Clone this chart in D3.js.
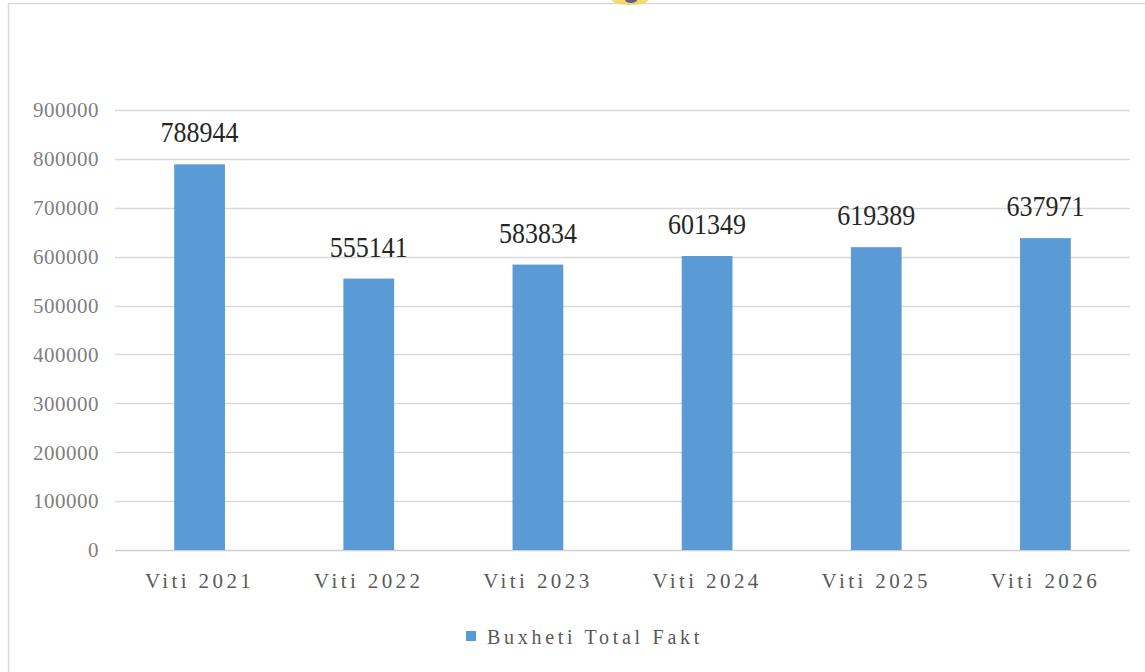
<!DOCTYPE html>
<html>
<head>
<meta charset="utf-8">
<script src="https://cdn.jsdelivr.net/npm/d3@7"></script>
<style>
  html, body { margin: 0; padding: 0; background: #fff; }
  svg { display: block; }
</style>
</head>
<body>
<svg id="chart" width="1145" height="672"></svg>
<script>
const categories = ["Viti 2021", "Viti 2022", "Viti 2023", "Viti 2024", "Viti 2025", "Viti 2026"];
const values = [788944, 555141, 583834, 601349, 619389, 637971];
const yTicks = [0, 100000, 200000, 300000, 400000, 500000, 600000, 700000, 800000, 900000];
const seriesName = "Buxheti Total Fakt";

const svg = d3.select("#chart");
const W = 1145, H = 672;
const plot = { left: 115, right: 1130, top: 110, bottom: 550 };

// frame
svg.append("line").attr("x1", 8.5).attr("x2", 8.5).attr("y1", 3).attr("y2", H)
  .attr("stroke", "#d9d9d9").attr("stroke-width", 1.5);
svg.append("line").attr("x1", 8).attr("x2", W).attr("y1", 3.5).attr("y2", 3.5)
  .attr("stroke", "#d9d9d9").attr("stroke-width", 1.5);

// small logo fragment at top
svg.append("ellipse").attr("cx", 630).attr("cy", 0).attr("rx", 18).attr("ry", 5)
  .attr("fill", "#f2d64b").attr("opacity", 0.85);
svg.append("ellipse").attr("cx", 631).attr("cy", 0).attr("rx", 6).attr("ry", 3)
  .attr("fill", "#3a3f9a").attr("opacity", 0.8);

const x = d3.scaleBand().domain(categories).range([plot.left, plot.right]).paddingInner(0.7).paddingOuter(0.35);
const y = d3.scaleLinear().domain([0, 900000]).range([plot.bottom, plot.top]);

// gridlines
svg.append("g").selectAll("line").data(yTicks).join("line")
  .attr("x1", plot.left).attr("x2", plot.right)
  .attr("y1", d => Math.round(y(d)) + 0.5).attr("y2", d => Math.round(y(d)) + 0.5)
  .attr("stroke", d => d === 0 ? "#cfcfcf" : "#d9d9d9").attr("stroke-width", 1.5);

// y tick labels
svg.append("g").selectAll("text").data(yTicks).join("text")
  .attr("x", 99).attr("y", d => y(d))
  .attr("dy", "0.35em")
  .attr("text-anchor", "end")
  .attr("font-family", "'Liberation Serif', 'DejaVu Serif', serif")
  .attr("font-size", 21)
  .attr("letter-spacing", "0.5px")
  .attr("fill", "#7f7f7f")
  .text(d => d);

// bars
svg.append("g").selectAll("rect").data(values).join("rect")
  .attr("x", (d, i) => x(categories[i]))
  .attr("width", x.bandwidth())
  .attr("y", d => y(d))
  .attr("height", d => y(0) - y(d))
  .attr("fill", "#5b9bd5");

// value labels
svg.append("g").selectAll("text").data(values).join("text")
  .attr("transform", (d, i) => `translate(${x(categories[i]) + x.bandwidth() / 2},${y(d) - 22}) scale(1,1.12)`)
  .attr("text-anchor", "middle")
  .attr("font-family", "'Liberation Serif', 'DejaVu Serif', serif")
  .attr("font-size", 26)
  .attr("fill", "#262626")
  .text(d => d);

// category labels
svg.append("g").selectAll("text").data(categories).join("text")
  .attr("x", d => x(d) + x.bandwidth() / 2)
  .attr("y", 588)
  .attr("text-anchor", "middle")
  .attr("font-family", "'Liberation Serif', 'DejaVu Serif', serif")
  .attr("font-size", 21)
  .attr("letter-spacing", "3.4px")
  .attr("fill", "#595959")
  .text(d => d);

// legend
const lg = svg.append("g");
lg.append("rect").attr("x", 466).attr("y", 631).attr("width", 10).attr("height", 10).attr("fill", "#5b9bd5");
lg.append("text").attr("x", 487).attr("y", 644)
  .attr("font-family", "'Liberation Serif', 'DejaVu Serif', serif")
  .attr("font-size", 20)
  .attr("letter-spacing", "3.7px")
  .attr("fill", "#595959")
  .text(seriesName);
</script>
</body>
</html>
